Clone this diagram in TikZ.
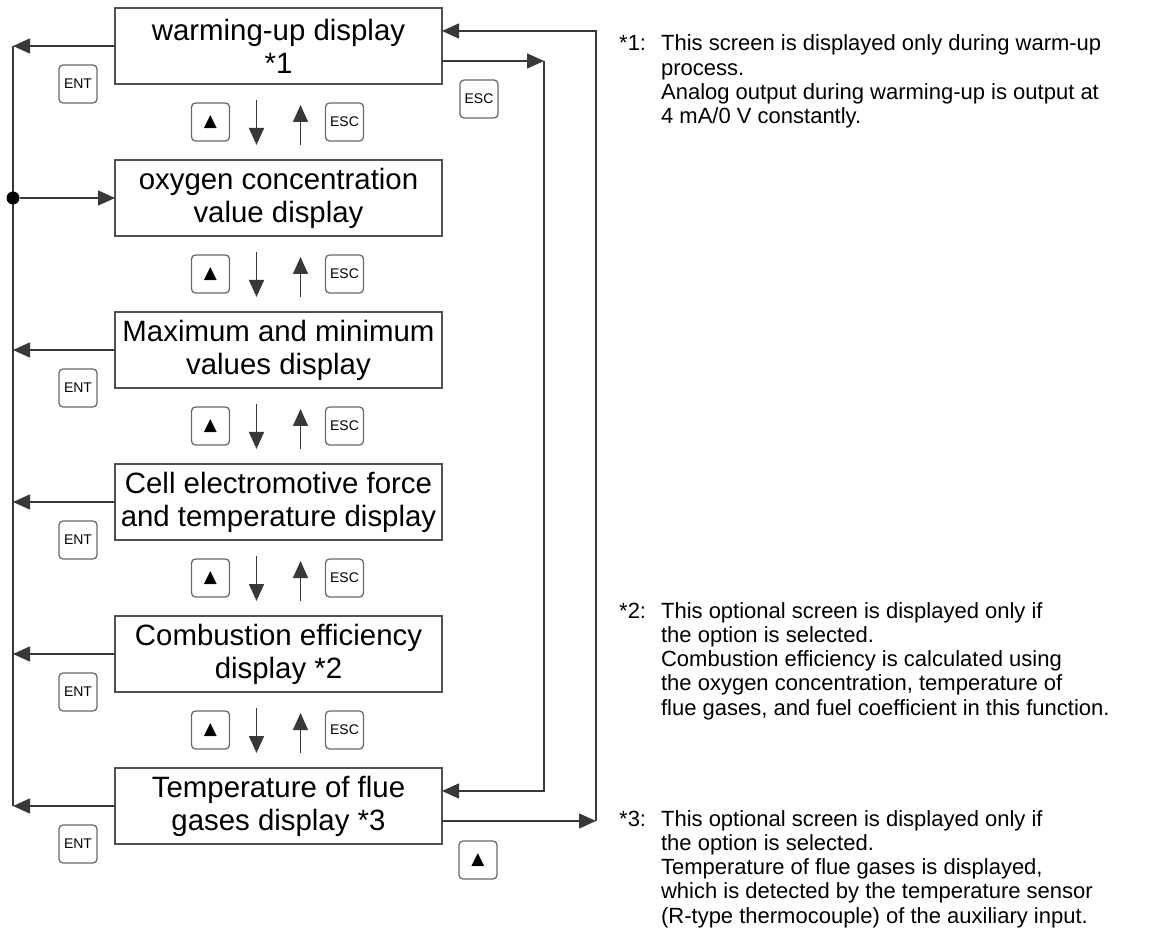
\documentclass[tikz,border=0pt]{standalone}
\usepackage{fontspec}
\setmainfont{Liberation Sans}
\newfontfamily\symfont{DejaVu Sans}
\usetikzlibrary{arrows.meta,positioning}
\definecolor{linegray}{HTML}{383838}
\definecolor{framegray}{HTML}{505050}
\definecolor{keygray}{HTML}{6A6A6A}
\newcommand{\upkey}{{\symfont\fontsize{17}{17}\selectfont ▲}}

\begin{document}
\begin{tikzpicture}[x=1pt,y=-1pt,
  screen/.style={draw=framegray,line width=1.8pt,minimum width=327pt,minimum height=76pt,
    inner sep=0pt,outer sep=0pt,align=center,font=\fontsize{29.4}{33}\selectfont},
  key/.style={draw=keygray,line width=1.3pt,rounded corners=4pt,minimum size=38pt,
    inner sep=0pt,font=\fontsize{14}{16}\selectfont},
  arr/.style={draw=linegray,line width=1.5pt,-{Triangle[length=17pt,width=15pt]}},
  wire/.style={draw=linegray,line width=1.5pt},
  junction/.style={circle,fill=black,minimum size=13pt,inner sep=0pt},
  note/.style={anchor=base west,inner sep=0pt,font=\fontsize{22}{24.3}\selectfont},
]
\useasboundingbox (0,0) rectangle (1152,949);

% screens
\node[screen] (warm) at (278.5,46) {warming-up display\\*1};
\node[screen,below=76pt of warm] (oxy) {oxygen concentration\\value display};
\node[screen,below=76pt of oxy] (maxmin) {Maximum and minimum\\values display};
\node[screen,below=76pt of maxmin] (cell) {Cell electromotive force\\and temperature display};
\node[screen,below=76pt of cell] (comb) {Combustion efficiency\\display *2};
\node[screen,below=76pt of comb] (flue) {Temperature of flue\\gases display *3};

% up / down between screens
\foreach \a/\b in {warm/oxy,oxy/maxmin,maxmin/cell,cell/comb,comb/flue}{
  \draw[arr] ([xshift=-22pt,yshift=-16pt]\a.south) -- ([xshift=-22pt,yshift=15pt]\b.north);
  \draw[arr] ([xshift=22pt,yshift=15pt]\b.north) -- ([xshift=22pt,yshift=-21pt]\a.south);
  \path (\a.south) -- node[key,xshift=-68pt] (up-\a) {\upkey}
    node[key,xshift=66pt] (esc-\a) {ESC} (\b.north);
}

% left bus
\coordinate (rail) at (13,0);
\draw[wire] (warm.west -| rail) -- (flue.west -| rail);
\foreach \n in {warm,maxmin,cell,comb,flue}{
  \draw[arr] (\n.west) -- (\n.west -| rail);
  \node[key] (ent-\n) at ([xshift=-37pt]\n.south west) {ENT};
}
\node[junction] (jn) at (oxy.west -| rail) {};
\draw[arr] (jn) -- (oxy.west);

% right loops
\coordinate (inner) at (544,0);
\coordinate (outer) at (596,0);
\draw[arr] ([yshift=-15pt]warm.east) -- ([yshift=-15pt]warm.east -| inner);
\draw[arr] ([yshift=-15pt]warm.east -| inner) |- ([yshift=15pt]flue.east);
\draw[arr] ([yshift=-15pt]flue.east) -- ([yshift=-15pt]flue.east -| outer);
\draw[arr] ([yshift=-15pt]flue.east -| outer) |- ([yshift=15pt]warm.east);
\node[key] (esc-back) at ([xshift=37pt,yshift=-15pt]warm.south east) {ESC};
\node[key] (up-back) at ([xshift=36pt,yshift=-16pt]flue.south east) {\upkey};

% notes
\node[note] (fn1) at (619,51) {\begin{tabular}[t]{@{}l@{\hspace{15pt}}l@{}}
  *1: & This screen is displayed only during warm-up\\
      & process.\\
      & Analog output during warming-up is output at\\
      & 4 mA/0 V constantly.\end{tabular}};
\node[note] (fn2) at (619,618) {\begin{tabular}[t]{@{}l@{\hspace{15pt}}l@{}}
  *2: & This optional screen is displayed only if\\
      & the option is selected.\\
      & Combustion efficiency is calculated using\\
      & the oxygen concentration, temperature of\\
      & flue gases, and fuel coefficient in this function.\end{tabular}};
\node[note] (fn3) at (619,826) {\begin{tabular}[t]{@{}l@{\hspace{15pt}}l@{}}
  *3: & This optional screen is displayed only if\\
      & the option is selected.\\
      & Temperature of flue gases is displayed,\\
      & which is detected by the temperature sensor\\
      & (R-type thermocouple) of the auxiliary input.\end{tabular}};
\end{tikzpicture}
\end{document}
